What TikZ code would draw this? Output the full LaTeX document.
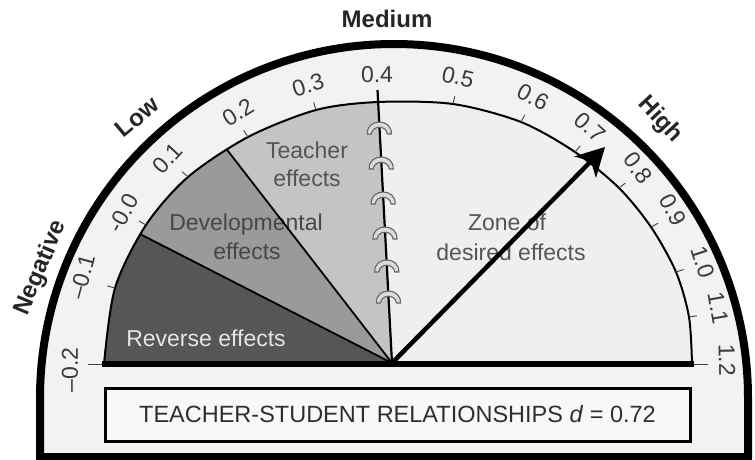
\documentclass[tikz,border=0pt]{standalone}
\usepackage{fontspec}
\setmainfont{Liberation Sans}
\usetikzlibrary{calc,arrows.meta}
\definecolor{ringc}{HTML}{F2F2F2}
\definecolor{zonec}{HTML}{EFEFEF}
\definecolor{teachc}{HTML}{C4C4C4}
\definecolor{devc}{HTML}{9A9A9A}
\definecolor{revc}{HTML}{565656}
\definecolor{numc}{HTML}{3A3A3A}
\definecolor{txtc}{HTML}{555555}
\definecolor{boxc}{HTML}{F8F8F8}
\begin{document}
\begin{tikzpicture}[x=1pt,y=-1pt,
  num/.style={font=\fontsize{23}{23}\selectfont, text=numc, inner sep=0pt},
  lvl/.style={font=\fontsize{24}{24}\selectfont\bfseries, text=black!85, inner sep=0pt},
  reg/.style={font=\fontsize{23}{23}\selectfont, text=txtc, inner sep=0pt},
  tickmark/.style={line width=0.9pt, draw=black!75},
  capshape/.style={fill=black!14, draw=black!60, line width=1.1pt}]
\useasboundingbox (0,0) rectangle (755,460);
\def\arcpts{(104,364) (115,288) (146,225) (188,177) (248,137) (316,110) (378,102) (453,104) (521,122) (575,152) (619,188) (651,227) (676,272) (689,317) (692,364)}
\coordinate (C) at (393,364);
\coordinate (apex) at (392,363);
\coordinate (B1) at (140,234);
\coordinate (B2) at (228,151);
\coordinate (T4) at (378,102);
\coordinate (T4top) at (377.5,90);
\coordinate (tip) at (605,147);
% outer body
\fill[ringc] (40,458) -- (40,398) arc[start angle=180, end angle=360, radius=354] -- (748,458) -- cycle;
\draw[line width=8pt] (40,458) -- (40,398) arc[start angle=180, end angle=360, radius=354] -- (748,458);
\draw[line width=7pt] (36,456) -- (752,456);
% inner dial
\fill[zonec] plot[smooth] coordinates {\arcpts} -- cycle;
\begin{scope}
  \clip plot[smooth] coordinates {\arcpts} -- cycle;
  \fill[revc] (apex) -- ($(apex)!3!(B1)$) -- (-400,364) -- cycle;
  \fill[devc] (apex) -- ($(apex)!3!(B1)$) -- ($(apex)!3!(B2)$) -- cycle;
  \fill[teachc] (apex) -- ($(apex)!3!(B2)$) -- ($(apex)!3!(T4)$) -- cycle;
  % region labels
  \node[reg] (lt1) at (307,150) {Teacher};
  \node[reg] (lt2) at (307,178) {effects};
  \node[reg, text=black!72] (ld1) at (246,225) {Developmental};
  \node[reg, text=black!72] (ld2) at (247,251) {effects};
  \node[reg, text=black!10] (lr) at (206,338) {Reverse effects};
  \node[reg] (lz1) at (507,222) {Zone of};
  \node[reg] (lz2) at (511,252) {desired effects};
  \draw[line width=1.8pt] (apex) -- ($(apex)!3!(B1)$);
  \draw[line width=1.8pt] (apex) -- ($(apex)!3!(B2)$);
\end{scope}
\draw[line width=2pt] plot[smooth] coordinates {\arcpts};
% ticks
\foreach \px/\py in {115/288,146/225,188/177,248/137,316/110,453/104,521/122,575/152,619/188,651/227,676/272,689/317}{
  \draw[tickmark] (\px,\py) -- ($(\px,\py)!-8pt!(C)$);
}
\draw[tickmark] (88,364) -- (104,364);
\draw[tickmark] (692,364) -- (708,364);
% base line
\draw[line width=6pt] (102,364) -- (694,364);
% 0.4 line with caps
\draw[line width=2.2pt] (apex) -- (T4top);
\foreach \yy in {127,162,197,232,265,296}{
  \pgfmathsetmacro{\xx}{378+(\yy-102)*14/260}
  \path[capshape] (\xx-12,\yy+7) .. controls (\xx-13,\yy-9) and (\xx+13,\yy-9) .. (\xx+12,\yy+7)
     -- (\xx+8,\yy+7) .. controls (\xx+7,\yy-2) and (\xx-7,\yy-2) .. (\xx-8,\yy+7) -- cycle;
}
% needle
\draw[line width=4.5pt, -{Stealth[length=28pt, width=30pt, inset=8pt]}] (apex) -- (tip);
% box
\node[draw, line width=3pt, fill=boxc, minimum width=585pt, minimum height=53pt, inner sep=0pt,
      font=\fontsize{23.5}{23.5}\selectfont, text=black!82] (rel) at (397.5,414.5)
      {TEACHER-STUDENT RELATIONSHIPS \textit{d} = 0.72};
% level labels
\node[lvl] (med) at (387,19) {Medium};
\node[lvl, rotate=40] (low) at (137,117) {Low};
\node[lvl, rotate=-47] (high) at (660,120) {High};
\node[lvl, rotate=67] (neg) at (41,268) {Negative};
% scale numbers
\node[num, rotate=90] (n0) at (70,370) {–0.2};
\node[num, rotate=75] (n1) at (82,277) {–0.1};
\node[num, rotate=61] (n2) at (123,213) {-0.0};
\node[num, rotate=47] (n3) at (168,158) {0.1};
\node[num, rotate=32] (n4) at (238,112) {0.2};
\node[num, rotate=17] (n5) at (308,85) {0.3};
\node[num] (n6) at (377,75) {0.4};
\node[num, rotate=-13] (n7) at (458,77) {0.5};
\node[num, rotate=-28] (n8) at (533,97) {0.6};
\node[num, rotate=-42] (n9) at (590,127) {0.7};
\node[num, rotate=-53] (n10) at (638,168) {0.8};
\node[num, rotate=-62] (n11) at (673,210) {0.9};
\node[num, rotate=-72] (n12) at (703,262) {1.0};
\node[num, rotate=-80] (n13) at (718,308) {1.1};
\node[num, rotate=-89] (n14) at (727,360) {1.2};
\end{tikzpicture}
\end{document}
